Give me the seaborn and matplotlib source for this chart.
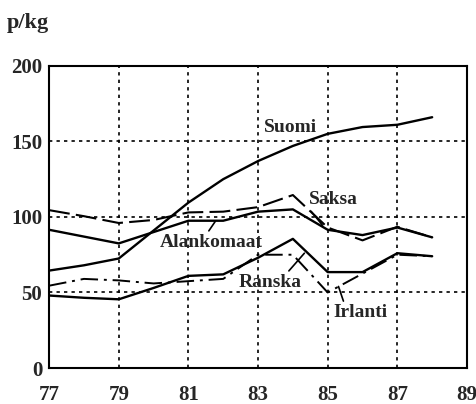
import matplotlib
matplotlib.use("Agg")
import matplotlib.pyplot as plt
import seaborn as sns

years = [77, 78, 79, 80, 81, 82, 83, 84, 85, 86, 87, 88]

suomi = [64.5, 68, 72.5, 91, 109.5, 125, 137, 147, 155, 159.5, 161, 166]
alankomaat = [91.5, 87, 82.5, 90, 97.5, 97.5, 103.5, 105, 91.5, 88, 93, 86.5]
saksa = [104.5, 100.5, 96, 98, 103, 103.5, 106.5, 114.5, 93, 84.5, 93.5, 86.5]
ranska = [48, 46.5, 45.5, 53, 61, 62, 73, 85.5, 63.5, 63.5, 76, 74]
irlanti = [54.5, 59, 58, 56, 57.5, 59, 75, 75, 50, 62.5, 75, 74]

x_ticks = [77, 79, 81, 83, 85, 87, 89]
y_ticks = [0, 50, 100, 150, 200]

sns.set_style("white")
plt.rcParams["font.family"] = ["Liberation Serif", "DejaVu Serif"]
plt.rcParams["font.weight"] = "bold"

fig = plt.figure(figsize=(4.77, 4.04), dpi=100)
ax = fig.add_axes([0.103, 0.089, 0.876, 0.748])

sns.lineplot(x=years, y=suomi, ax=ax, color="black", linewidth=1.7)
sns.lineplot(x=years, y=alankomaat, ax=ax, color="black", linewidth=1.7)
sns.lineplot(x=years, y=ranska, ax=ax, color="black", linewidth=1.7)
sns.lineplot(x=years, y=saksa, ax=ax, color="black", linewidth=1.5,
             dashes=False, linestyle=(0, (10, 3)))
sns.lineplot(x=years, y=irlanti, ax=ax, color="black", linewidth=1.4,
             linestyle=(0, (9, 3, 1.5, 3)))

ax.set_xlim(77, 89)
ax.set_ylim(0, 200)
ax.set_xticks(x_ticks)
ax.set_yticks(y_ticks)
ax.tick_params(axis="both", labelsize=15, length=0)
ax.tick_params(axis="x", pad=12)
ax.tick_params(axis="y", pad=5)
for lab in ax.get_xticklabels() + ax.get_yticklabels():
    lab.set_fontweight("bold")

for x in x_ticks[1:-1]:
    ax.axvline(x, color="black", linestyle=(0, (2, 2.5)), linewidth=1.2)
for y in y_ticks[1:-1]:
    ax.axhline(y, color="black", linestyle=(0, (2, 2.5)), linewidth=1.2)

for s in ax.spines.values():
    s.set_color("black")
    s.set_linewidth(1.5)

lbl = dict(fontsize=14, fontweight="bold", ha="center", va="center")
ptr = dict(arrowstyle="-", color="black", lw=1.2, shrinkA=0, shrinkB=0)

ax.text(83.93, 159.5, "Suomi", **lbl)
ax.annotate("Saksa", xy=(84.85, 94.5), xytext=(85.15, 111.5),
            textcoords="data", **lbl,
            arrowprops=dict(ptr, relpos=(0.0, 0.0)))
ax.annotate("Alankomaat", xy=(81.77, 97), xytext=(81.67, 83),
            **lbl, arrowprops=dict(ptr, relpos=(0.45, 1.0)))
ax.annotate("Ranska", xy=(84.33, 76), xytext=(83.35, 56.5),
            **lbl, arrowprops=dict(ptr, relpos=(0.75, 1.0)))
ax.annotate("Irlanti", xy=(85.31, 54), xytext=(85.95, 36.5),
            **lbl, arrowprops=dict(ptr, relpos=(0.2, 1.0)))

fig.text(0.015, 0.943, "p/kg", fontsize=16, fontweight="bold",
         ha="left", va="center")

fig.savefig("out.png", dpi=100)
